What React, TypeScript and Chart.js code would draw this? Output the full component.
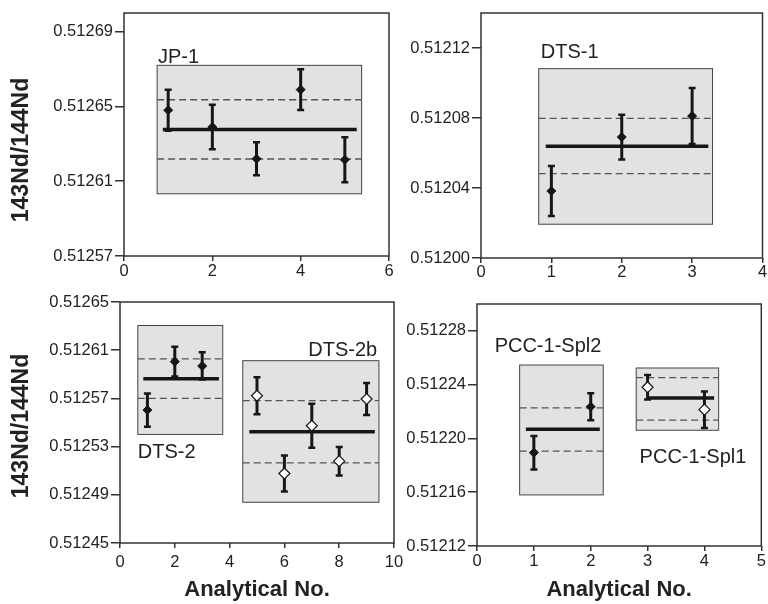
import React, { useEffect, useRef } from "react";
import { Chart, registerables } from "chart.js";

Chart.register(...registerables);

const FONT = "'Liberation Sans', Arial, Helvetica, sans-serif";

// ---------- Panel 1: JP-1 ----------
const p1XTicks = [0, 2, 4, 6];
const p1YTicks = [0.51257, 0.51261, 0.51265, 0.51269];
const p1XRange = [0, 6];
const p1YRange = [0.51257, 0.5127];

const jp1X = [1, 2, 3, 4, 5];
const jp1Y = [0.512648, 0.512639, 0.512622, 0.512659, 0.5126215];
const jp1Err = [0.000011, 0.0000119, 0.0000088, 0.0000109, 0.000012];
const jp1Mean = 0.5126377;
const jp1Band = [0.5126219, 0.5126536];
const jp1MeanSpan = [0.88, 5.27];
const jp1BoxX = [0.75, 5.38];
const jp1BoxY = [0.5126033, 0.512672];

// ---------- Panel 2: DTS-1 ----------
const p2XTicks = [0, 1, 2, 3, 4];
const p2YTicks = [0.512, 0.51204, 0.51208, 0.51212];
const p2XRange = [0, 4];
const p2YRange = [0.512, 0.51214];

const dts1X = [1, 2, 3];
const dts1Y = [0.5120383, 0.5120691, 0.5120811];
const dts1Err = [0.0000143, 0.0000128, 0.000016];
const dts1Mean = 0.5120638;
const dts1Band = [0.5120482, 0.5120798];
const dts1MeanSpan = [0.92, 3.23];
const dts1BoxX = [0.82, 3.29];
const dts1BoxY = [0.5120193, 0.5121082];

// ---------- Panel 3: DTS-2 / DTS-2b ----------
const p3XTicks = [0, 2, 4, 6, 8, 10];
const p3YTicks = [0.51245, 0.51249, 0.51253, 0.51257, 0.51261, 0.51265];
const p3XRange = [0, 10];
const p3YRange = [0.51245, 0.51265];

const dts2X = [1, 2, 3];
const dts2Y = [0.5125603, 0.5126005, 0.5125969];
const dts2Err = [0.0000138, 0.0000123, 0.0000113];
const dts2Mean = 0.5125864;
const dts2Band = [0.51257, 0.5126028];
const dts2MeanSpan = [0.85, 3.61];
const dts2BoxX = [0.65, 3.75];
const dts2BoxY = [0.5125401, 0.5126305];

const dts2bX = [5, 6, 7, 8, 9];
const dts2bY = [0.5125722, 0.5125077, 0.5125473, 0.5125179, 0.5125695];
const dts2bErr = [0.0000154, 0.000015, 0.0000182, 0.0000118, 0.0000132];
const dts2bMean = 0.5125423;
const dts2bBand = [0.5125165, 0.5125681];
const dts2bMeanSpan = [4.72, 9.3];
const dts2bBoxX = [4.48, 9.45];
const dts2bBoxY = [0.5124838, 0.5126013];

// ---------- Panel 4: PCC-1-Spl2 / PCC-1-Spl1 ----------
const p4XTicks = [0, 1, 2, 3, 4, 5];
const p4YTicks = [0.51212, 0.51216, 0.5122, 0.51224, 0.51228];
const p4XRange = [0, 5];
const p4YRange = [0.51212, 0.5123];

const spl2X = [1, 2];
const spl2Y = [0.5121894, 0.5122236];
const spl2Err = [0.0000125, 0.00001];
const spl2Mean = 0.5122069;
const spl2Band = [0.5121906, 0.5122228];
const spl2MeanSpan = [0.86, 2.16];
const spl2BoxX = [0.75, 2.22];
const spl2BoxY = [0.512158, 0.5122546];

const spl1X = [3, 4];
const spl1Y = [0.5122381, 0.5122214];
const spl1Err = [0.0000091, 0.0000136];
const spl1Mean = 0.5122301;
const spl1Band = [0.5122136, 0.5122453];
const spl1MeanSpan = [3.0, 4.17];
const spl1BoxX = [2.8, 4.25];
const spl1BoxY = [0.5122061, 0.5122524];

type Group = {
  xs: number[];
  ys: number[];
  errs: number[];
  mean: number;
  band: number[];
  meanSpan: number[];
  boxX: number[];
  boxY: number[];
  hollow: boolean;
  label: string;
  labelAt: number[];
};

type Panel = {
  groups: Group[];
  xRange: number[];
  yRange: number[];
  xTicks: number[];
  yTicks: number[];
  area: { l: number; t: number; r: number; b: number };
  xTitle: boolean;
  yTitleY: number;
  xPad: number;
};

const panels: Panel[] = [
  {
    groups: [
      { xs: jp1X, ys: jp1Y, errs: jp1Err, mean: jp1Mean, band: jp1Band, meanSpan: jp1MeanSpan, boxX: jp1BoxX, boxY: jp1BoxY, hollow: false, label: "JP-1", labelAt: [0.77, 0.5126735] },
    ],
    xRange: p1XRange, yRange: p1YRange, xTicks: p1XTicks, yTicks: p1YTicks,
    area: { l: 124, t: 13, r: 389, b: 256 }, xTitle: false, yTitleY: 150, xPad: 1,
  },
  {
    groups: [
      { xs: dts1X, ys: dts1Y, errs: dts1Err, mean: dts1Mean, band: dts1Band, meanSpan: dts1MeanSpan, boxX: dts1BoxX, boxY: dts1BoxY, hollow: false, label: "DTS-1", labelAt: [0.85, 0.5121145] },
    ],
    xRange: p2XRange, yRange: p2YRange, xTicks: p2XTicks, yTicks: p2YTicks,
    area: { l: 481, t: 13, r: 764, b: 258 }, xTitle: false, yTitleY: -1, xPad: 0,
  },
  {
    groups: [
      { xs: dts2X, ys: dts2Y, errs: dts2Err, mean: dts2Mean, band: dts2Band, meanSpan: dts2MeanSpan, boxX: dts2BoxX, boxY: dts2BoxY, hollow: false, label: "DTS-2", labelAt: [0.65, 0.5125202] },
      { xs: dts2bX, ys: dts2bY, errs: dts2bErr, mean: dts2bMean, band: dts2bBand, meanSpan: dts2bMeanSpan, boxX: dts2bBoxX, boxY: dts2bBoxY, hollow: true, label: "DTS-2b", labelAt: [6.87, 0.5126053] },
    ],
    xRange: p3XRange, yRange: p3YRange, xTicks: p3XTicks, yTicks: p3YTicks,
    area: { l: 120, t: 302, r: 394, b: 543 }, xTitle: true, yTitleY: 426, xPad: 5,
  },
  {
    groups: [
      { xs: spl2X, ys: spl2Y, errs: spl2Err, mean: spl2Mean, band: spl2Band, meanSpan: spl2MeanSpan, boxX: spl2BoxX, boxY: spl2BoxY, hollow: false, label: "PCC-1-Spl2", labelAt: [0.31, 0.5122643] },
      { xs: spl1X, ys: spl1Y, errs: spl1Err, mean: spl1Mean, band: spl1Band, meanSpan: spl1MeanSpan, boxX: spl1BoxX, boxY: spl1BoxY, hollow: true, label: "PCC-1-Spl1", labelAt: [2.86, 0.5121819] },
    ],
    xRange: p4XRange, yRange: p4YRange, xTicks: p4XTicks, yTicks: p4YTicks,
    area: { l: 477, t: 304, r: 763, b: 546 }, xTitle: true, yTitleY: -1, xPad: 1,
  },
];

const W = 768;
const H = 604;

const decoPlugin = {
  id: "panelDeco",
  beforeDatasetsDraw(chart: any, _args: any, opts: any) {
    const { ctx } = chart;
    const xs = chart.scales.x;
    const ys = chart.scales.y;
    ctx.save();
    (opts.groups as Group[]).forEach((g) => {
      const x0 = xs.getPixelForValue(g.boxX[0]);
      const x1 = xs.getPixelForValue(g.boxX[1]);
      const y0 = ys.getPixelForValue(g.boxY[1]);
      const y1 = ys.getPixelForValue(g.boxY[0]);
      ctx.fillStyle = "#e1e2e4";
      ctx.fillRect(x0, y0, x1 - x0, y1 - y0);
      ctx.strokeStyle = "#444";
      ctx.lineWidth = 1;
      ctx.strokeRect(x0, y0, x1 - x0, y1 - y0);
    });
    ctx.restore();
  },
  beforeDatasetDraw(chart: any, args: any) {
    const ds = chart.data.datasets[args.index];
    if (!ds.errs) return;
    const { ctx } = chart;
    const xs = chart.scales.x;
    const ys = chart.scales.y;
    ctx.save();
    ctx.strokeStyle = "#161616";
    ds.data.forEach((pt: any, i: number) => {
      const px = xs.getPixelForValue(pt.x);
      const top = ys.getPixelForValue(pt.y + ds.errs[i]);
      const bot = ys.getPixelForValue(pt.y - ds.errs[i]);
      ctx.lineWidth = 3;
      ctx.beginPath();
      ctx.moveTo(px, top);
      ctx.lineTo(px, bot);
      ctx.stroke();
      ctx.lineWidth = 2.5;
      ctx.beginPath();
      ctx.moveTo(px - 3.5, top);
      ctx.lineTo(px + 3.5, top);
      ctx.moveTo(px - 3.5, bot);
      ctx.lineTo(px + 3.5, bot);
      ctx.stroke();
    });
    ctx.restore();
  },
  afterDatasetsDraw(chart: any, _args: any, opts: any) {
    const { ctx, chartArea } = chart;
    const xs = chart.scales.x;
    const ys = chart.scales.y;
    ctx.save();
    ctx.strokeStyle = "#333";
    ctx.lineWidth = 1.5;
    ctx.strokeRect(chartArea.left, chartArea.top, chartArea.right - chartArea.left, chartArea.bottom - chartArea.top);
    ctx.fillStyle = "#222";
    ctx.font = `20px ${FONT}`;
    ctx.textAlign = "left";
    ctx.textBaseline = "alphabetic";
    (opts.groups as Group[]).forEach((g) => {
      ctx.fillText(g.label, xs.getPixelForValue(g.labelAt[0]), ys.getPixelForValue(g.labelAt[1]));
    });
    if (opts.yTitleY > 0) {
      ctx.translate(22, opts.yTitleY);
      ctx.rotate(-Math.PI / 2);
      ctx.font = `bold 23px ${FONT}`;
      ctx.textAlign = "center";
      ctx.textBaseline = "middle";
      ctx.fillText("143Nd/144Nd", 0, 0);
    }
    ctx.restore();
  },
};

function buildConfig(p: Panel): any {
  const datasets: any[] = [];
  p.groups.forEach((g) => {
    datasets.push({
      data: g.xs.map((x, i) => ({ x, y: g.ys[i] })),
      errs: g.errs,
      pointStyle: "rectRot",
      pointRadius: g.hollow ? 5.5 : 4.5,
      pointBackgroundColor: g.hollow ? "#ffffff" : "#161616",
      pointBorderColor: "#161616",
      pointBorderWidth: g.hollow ? 1.2 : 1,
      showLine: false,
      order: 0,
    });
    datasets.push({
      data: [
        { x: g.meanSpan[0], y: g.mean },
        { x: g.meanSpan[1], y: g.mean },
      ],
      showLine: true,
      borderColor: "#161616",
      borderWidth: 3.5,
      pointRadius: 0,
      order: 1,
    });
    g.band.forEach((v) => {
      datasets.push({
        data: [
          { x: g.boxX[0], y: v },
          { x: g.boxX[1], y: v },
        ],
        showLine: true,
        borderColor: "#555",
        borderWidth: 1.3,
        borderDash: [7, 4],
        pointRadius: 0,
        order: 2,
      });
    });
  });

  return {
    type: "scatter",
    data: { datasets },
    plugins: [decoPlugin],
    options: {
      responsive: false,
      animation: false,
      events: [],
      layout: { padding: { left: 0, top: p.area.t, right: W - p.area.r, bottom: 0 } },
      plugins: {
        legend: { display: false },
        tooltip: { enabled: false },
        panelDeco: { groups: p.groups, yTitleY: p.yTitleY },
      },
      scales: {
        x: {
          type: "linear",
          min: p.xRange[0],
          max: p.xRange[1],
          afterBuildTicks: (s: any) => {
            s.ticks = p.xTicks.map((v) => ({ value: v }));
          },
          afterFit: (s: any) => {
            s.height = H - p.area.b;
          },
          ticks: {
            autoSkip: false,
            maxRotation: 0,
            padding: p.xPad,
            color: "#222",
            font: { family: FONT, size: 16.5 },
            callback: (v: any) => String(v),
          },
          grid: { drawOnChartArea: false, drawTicks: true, tickLength: 5, color: "#333", lineWidth: 1.5 },
          border: { display: false },
          title: {
            display: p.xTitle,
            text: "Analytical No.",
            color: "#222",
            font: { family: FONT, size: 22, weight: "bold" },
            padding: { top: 0, bottom: 1 },
          },
        },
        y: {
          type: "linear",
          min: p.yRange[0],
          max: p.yRange[1],
          afterBuildTicks: (s: any) => {
            s.ticks = p.yTicks.map((v) => ({ value: v }));
          },
          afterFit: (s: any) => {
            s.width = p.area.l;
          },
          ticks: {
            autoSkip: false,
            padding: 2,
            color: "#222",
            font: { family: FONT, size: 16.5 },
            callback: (v: any) => Number(v).toFixed(5),
          },
          grid: { drawOnChartArea: false, drawTicks: true, tickLength: 9, color: "#333", lineWidth: 1.5 },
          border: { display: false },
        },
      },
    },
  };
}

function PanelChart({ panel }: { panel: Panel }) {
  const ref = useRef<HTMLCanvasElement | null>(null);
  useEffect(() => {
    if (!ref.current) return;
    const chart = new Chart(ref.current, buildConfig(panel));
    return () => chart.destroy();
  }, [panel]);
  return (
    <canvas
      ref={ref}
      width={W}
      height={H}
      style={{ position: "absolute", left: 0, top: 0, width: W, height: H, display: "block" }}
    />
  );
}

export default function App() {
  return (
    <div style={{ position: "absolute", left: 0, top: 0, width: W, height: H, background: "#fff", overflow: "hidden" }}>
      {panels.map((p, i) => (
        <PanelChart key={i} panel={p} />
      ))}
    </div>
  );
}
